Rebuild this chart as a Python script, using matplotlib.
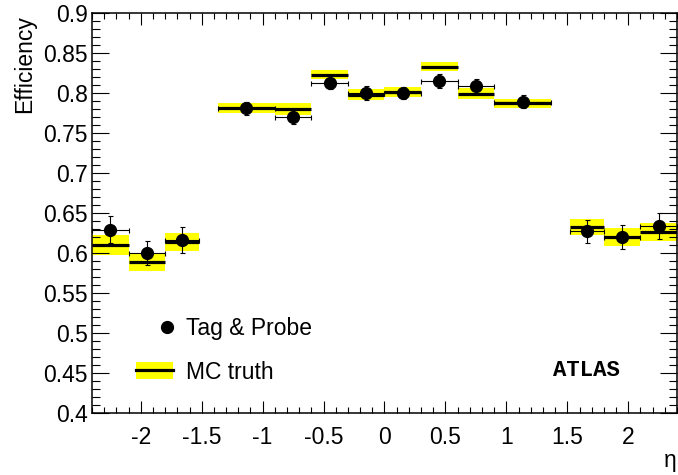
import numpy as np
import matplotlib
matplotlib.use("Agg")
import matplotlib.pyplot as plt
from matplotlib.patches import Patch
from matplotlib.lines import Line2D
from matplotlib.legend_handler import HandlerLine2D

plt.rcParams['font.family'] = ['Liberation Sans', 'DejaVu Sans']
plt.rcParams['axes.unicode_minus'] = False

# eta bins (crack region 1.37-1.52 left empty)
bin_lo = [-2.4, -2.1, -1.8, -1.37, -0.9, -0.6, -0.3, 0.0, 0.3, 0.6, 0.9, 1.52, 1.8, 2.1]
bin_hi = [-2.1, -1.8, -1.52, -0.9, -0.6, -0.3, 0.0, 0.3, 0.6, 0.9, 1.37, 1.8, 2.1, 2.4]

# tag & probe measurement
tp_eff = [0.629, 0.600, 0.616, 0.781, 0.770, 0.813, 0.800, 0.800, 0.815, 0.809, 0.789, 0.627, 0.620, 0.634]
tp_err = [0.017, 0.015, 0.016, 0.008, 0.009, 0.0085, 0.009, 0.008, 0.0085, 0.0085, 0.008, 0.014, 0.015, 0.016]

# MC truth
mc_eff = [0.610, 0.589, 0.614, 0.781, 0.780, 0.823, 0.798, 0.801, 0.833, 0.799, 0.787, 0.632, 0.620, 0.626]
mc_err = [0.012, 0.011, 0.011, 0.006, 0.0075, 0.0058, 0.007, 0.006, 0.006, 0.007, 0.0055, 0.010, 0.011, 0.0115]

xticks = [-2, -1.5, -1, -0.5, 0, 0.5, 1, 1.5, 2]
xtick_labels = ['-2', '-1.5', '-1', '-0.5', '0', '0.5', '1', '1.5', '2']
yticks = [0.4, 0.45, 0.5, 0.55, 0.6, 0.65, 0.7, 0.75, 0.8, 0.85, 0.9]
ytick_labels = ['0.4', '0.45', '0.5', '0.55', '0.6', '0.65', '0.7', '0.75', '0.8', '0.85', '0.9']


class RightMarker(HandlerLine2D):
    # put the legend marker near the right end of the key, like ROOT does
    # (with numpoints=1 matplotlib marks the middle of the two returned x)
    def get_xdata(self, legend, xdescent, ydescent, width, height, fontsize):
        m = width - xdescent - 0.25 * fontsize
        x = np.array([m - 1, m + 1])
        return x, x


lo = np.array(bin_lo)
hi = np.array(bin_hi)
centers = (lo + hi) / 2
half = (hi - lo) / 2
mc = np.array(mc_eff)
mce = np.array(mc_err)

fig = plt.figure(figsize=(6.78, 4.75), dpi=100)
ax = fig.add_axes([92/678, 62/475, 585/678, 400/475])

# MC truth: yellow band + black line
ax.bar(lo, 2*mce, width=hi-lo, bottom=mc-mce, align='edge', color='#ffff00', lw=0, zorder=1)
ax.hlines(mc, lo, hi, colors='black', lw=2.3, zorder=2)

# data points
ax.errorbar(centers, tp_eff, yerr=tp_err, xerr=half, fmt='o', color='black',
            ms=8.5, elinewidth=0.8, capsize=1.8, capthick=0.8, zorder=3)

ax.set_xlim(-2.4, 2.4)
ax.set_ylim(0.4, 0.9)
ax.set_xticks(xticks)
ax.set_xticklabels(xtick_labels)
ax.set_yticks(yticks)
ax.set_yticklabels(ytick_labels)
ax.set_xticks(np.arange(-2.4, 2.41, 0.1), minor=True)
ax.set_yticks(np.arange(0.4, 0.901, 0.01), minor=True)
ax.tick_params(which='both', direction='in', top=True, right=True, labelsize=16.5, width=0.8)
ax.tick_params(axis='x', which='major', length=8.5, pad=9)
ax.tick_params(axis='x', which='minor', length=4.3)
ax.tick_params(axis='y', which='major', length=12, pad=3)
ax.tick_params(axis='y', which='minor', length=6)
for s in ax.spines.values():
    s.set_linewidth(1.1)

fig.text(25/678, 1 - 15/475, 'Efficiency', rotation=90, ha='center', va='top', fontsize=16.5)
fig.text(677/678, 1 - 460/475, 'η', ha='right', va='center', fontsize=16.5)

tp_key = Line2D([], [], marker='o', ls='none', color='black', ms=8.5)
mc_key = (Patch(facecolor='#ffff00', lw=0), Line2D([], [], color='black', lw=2.3))
ax.legend([tp_key, mc_key], ['Tag & Probe', 'MC truth'], loc='upper left',
          bbox_to_anchor=(0.075, 0.24), handler_map={tp_key: RightMarker()},
          frameon=False, fontsize=16.5, handlelength=1.6, handleheight=0.75,
          handletextpad=0.6, labelspacing=0.9, borderpad=0, borderaxespad=0)

ax.text(0.788, 0.1075, 'ATLAS', transform=ax.transAxes, ha='left', va='center',
        fontsize=16, fontweight='bold', family='Liberation Mono')

fig.savefig('out.png', dpi=100)
